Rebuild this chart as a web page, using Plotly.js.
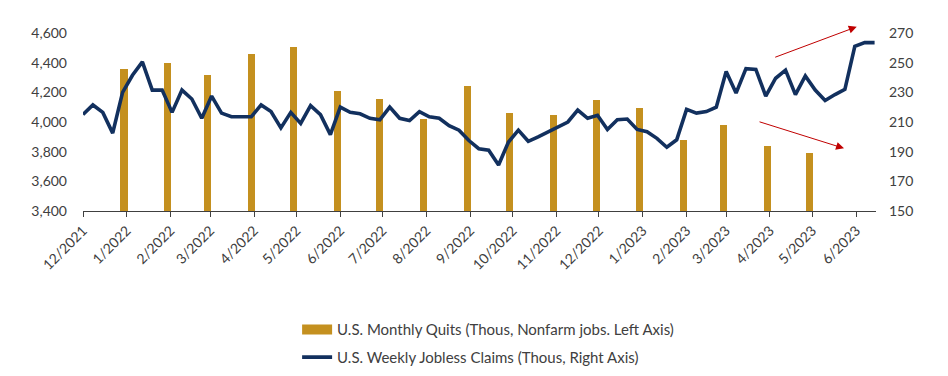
<!DOCTYPE html>
<html>
<head>
<meta charset="utf-8">
<script src="https://cdn.plot.ly/plotly-3.0.1.min.js"></script>
<style>html,body{margin:0;padding:0;background:#fff;}#chart{width:948px;height:376px;}</style>
</head>
<body>
<div id="chart"></div>
<script>
// Monthly quits (thousands), left axis
const quitsMonths = ['2021-12','2022-01','2022-02','2022-03','2022-04','2022-05','2022-06','2022-07','2022-08','2022-09','2022-10','2022-11','2022-12','2023-01','2023-02','2023-03','2023-04'];
const quitsValues = [4354, 4395, 4320, 4458, 4507, 4207, 4157, 4022, 4241, 4062, 4049, 4151, 4092, 3879, 3981, 3839, 3793];

// Weekly jobless claims (thousands), right axis
const claimsStart = '2021-12-01';
const claimsValues = [215, 221.5, 216.5, 202.5, 230, 241.5, 250.5, 231.5, 231.5, 216.5, 231.5, 225.5, 212.5, 227.5, 216, 213.5, 213.5, 213.5, 221.5, 217, 206, 216.5, 209, 221, 215, 201.5, 220, 216.5, 215.5, 212.5, 211.5, 220, 212.5, 211, 217, 213.5, 212.5, 207.5, 204.5, 197.5, 192, 191, 181, 196.5, 204.5, 197, 200, 203.5, 206.5, 210, 218, 212.5, 214.5, 205, 211.5, 212, 205, 203.5, 199, 193, 198, 218.5, 216, 217, 220, 244, 229.5, 246, 245.5, 227.5, 239.5, 245, 228.5, 241, 231.5, 224.5, 228.5, 232, 261, 263.5, 263.5];

// Month tick labels
const tickMonths = ['2021-12','2022-01','2022-02','2022-03','2022-04','2022-05','2022-06','2022-07','2022-08','2022-09','2022-10','2022-11','2022-12','2023-01','2023-02','2023-03','2023-04','2023-05','2023-06'];
const tickLabels = ['12/2021','1/2022','2/2022','3/2022','4/2022','5/2022','6/2022','7/2022','8/2022','9/2022','10/2022','11/2022','12/2022','1/2023','2/2023','3/2023','4/2023','5/2023','6/2023'];

const quitsName = 'U.S. Monthly Quits (Thous, Nonfarm jobs. Left Axis)';
const claimsName = 'U.S. Weekly Jobless Claims (Thous, Right Axis)';

function iso(d){ return d.toISOString().slice(0,10); }
function addDays(s, n){ const d = new Date(s + 'T00:00:00Z'); d.setUTCDate(d.getUTCDate() + n); return iso(d); }
function monthEndMinus1(m){ const [y, mo] = m.split('-').map(Number); const d = new Date(Date.UTC(y, mo, 0)); d.setUTCDate(d.getUTCDate() - 1); return iso(d); }

const quitsX = quitsMonths.map(monthEndMinus1);
const claimsX = claimsValues.map((v, i) => addDays(claimsStart, 7 * i));
const tickVals = tickMonths.map(m => m + '-01');

const gold = '#C4901F';
const navy = '#12305E';
const txt = '#404040';
const fontFam = 'Lato, "Open Sans", Arial, sans-serif';

const traces = [
  { type: 'bar', x: quitsX, y: quitsValues, yaxis: 'y', marker: { color: gold }, width: 5 * 86400000, showlegend: false, hoverinfo: 'x+y' },
  { type: 'scatter', mode: 'lines', x: [null], y: [null], name: quitsName, line: { color: gold, width: 10 }, legendgroup: 'a' },
  { type: 'scatter', mode: 'lines', x: claimsX, y: claimsValues, yaxis: 'y2', name: claimsName, line: { color: navy, width: 3.6 }, legendgroup: 'b' }
];

const layout = {
  width: 948, height: 376,
  margin: { l: 83, r: 72, t: 33, b: 165, autoexpand: false },
  paper_bgcolor: '#fff', plot_bgcolor: '#fff',
  font: { family: fontFam, color: txt, size: 14 },
  bargap: 0,
  xaxis: {
    type: 'date', range: ['2021-12-01', '2023-06-15'],
    tickmode: 'array', tickvals: tickVals, ticktext: tickLabels, tickangle: -45,
    ticks: 'outside', ticklen: 5, tickcolor: '#404040', showline: true, linecolor: '#404040', linewidth: 1,
    showgrid: false, zeroline: false, tickfont: { size: 14, color: txt }, fixedrange: true, automargin: false
  },
  yaxis: {
    range: [3400, 4600], tickvals: [3400, 3600, 3800, 4000, 4200, 4400, 4600], tickformat: ',',
    showgrid: false, zeroline: false, showline: false, ticks: '', ticklabelstandoff: 15,
    tickfont: { size: 14, color: txt }, automargin: false
  },
  yaxis2: {
    overlaying: 'y', side: 'right', range: [150, 270], tickvals: [150, 170, 190, 210, 230, 250, 270],
    showgrid: false, zeroline: false, showline: false, ticks: '', ticklabelstandoff: 12,
    tickfont: { size: 14, color: txt }, automargin: false
  },
  legend: {
    x: 0.27, y: -0.575, xanchor: 'left', yanchor: 'top', orientation: 'v',
    traceorder: 'grouped', tracegroupgap: 5,
    font: { size: 15, color: '#404040' }, bgcolor: 'rgba(0,0,0,0)'
  },
  annotations: [
    { xref: 'paper', yref: 'paper', x: 0.9757, y: 1.035, ax: -83, ay: 31, axref: 'pixel', ayref: 'pixel', text: '', showarrow: true, arrowhead: 2, arrowsize: 1.6, arrowwidth: 1, arrowcolor: '#C00000', standoff: 0 },
    { xref: 'paper', yref: 'paper', x: 0.9597, y: 0.352, ax: -86, ay: -27, axref: 'pixel', ayref: 'pixel', text: '', showarrow: true, arrowhead: 2, arrowsize: 1.6, arrowwidth: 1, arrowcolor: '#C00000', standoff: 0 }
  ]
};

Plotly.newPlot('chart', traces, layout, { displayModeBar: false, staticPlot: true });
</script>
</body>
</html>
